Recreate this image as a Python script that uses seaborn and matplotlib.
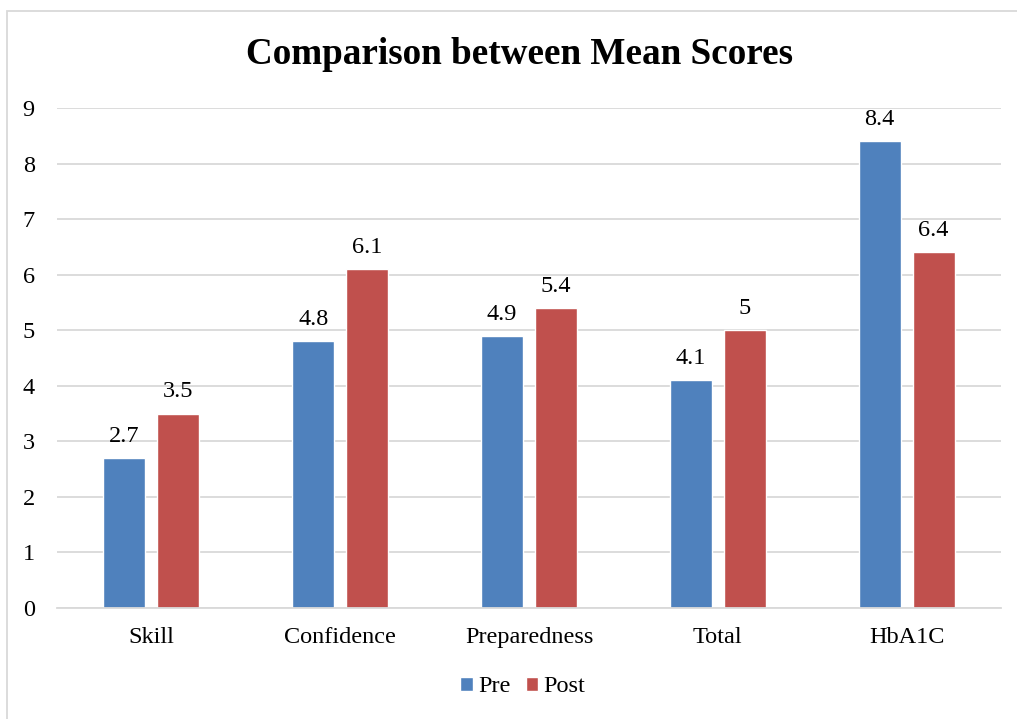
import matplotlib
matplotlib.use("Agg")
import matplotlib.pyplot as plt
import seaborn as sns
import pandas as pd
from matplotlib.patches import Rectangle

categories = ["Skill", "Confidence", "Preparedness", "Total", "HbA1C"]
pre_values = [2.7, 4.8, 4.9, 4.1, 8.4]
post_values = [3.5, 6.1, 5.4, 5.0, 6.4]
series_names = ["Pre", "Post"]
value_labels_pre = ["2.7", "4.8", "4.9", "4.1", "8.4"]
value_labels_post = ["3.5", "6.1", "5.4", "5", "6.4"]

df = pd.DataFrame({
    "Category": categories * 2,
    "Series": [series_names[0]] * len(categories) + [series_names[1]] * len(categories),
    "Score": pre_values + post_values,
})

sns.set_theme(style="white")
plt.rcParams["font.family"] = ["Liberation Serif", "DejaVu Serif"]
plt.rcParams["text.color"] = "black"
plt.rcParams["xtick.color"] = "black"
plt.rcParams["ytick.color"] = "black"

W, H = 1017, 719
fig = plt.figure(figsize=(W / 100, H / 100), dpi=100)
ax = fig.add_axes([57 / W, 1 - 608 / H, (1001 - 57) / W, (608 - 108) / H])

palette = {"Pre": "#4F81BD", "Post": "#C0504D"}
sns.barplot(data=df, x="Category", y="Score", hue="Series", order=categories,
            hue_order=series_names, palette=palette, width=0.571, gap=0.22,
            saturation=1, ax=ax, legend=True)

ax.set_ylim(0, 9)
ax.set_yticks(range(0, 10))
ax.yaxis.grid(True, color="#D9D9D9", linewidth=1.3)
ax.set_axisbelow(True)
for s in ["left", "right", "top"]:
    ax.spines[s].set_visible(False)
ax.spines["bottom"].set_color("#D9D9D9")
ax.spines["bottom"].set_linewidth(1.3)
ax.tick_params(axis="both", length=0, labelsize=17.5, labelcolor="black")
ax.tick_params(axis="x", pad=14)
ax.tick_params(axis="y", pad=16)
ax.set_xlabel("")
ax.set_ylabel("")

labels_by_series = [value_labels_pre, value_labels_post]
for container, labels in zip(ax.containers, labels_by_series):
    ax.bar_label(container, labels=labels, padding=8, fontsize=17.5, color="black")

handles, lbls = ax.get_legend_handles_labels()
ax.legend_.remove()
fig.legend(handles, lbls, loc="center", bbox_to_anchor=(523 / W, 1 - 687 / H),
           ncol=2, frameon=False, fontsize=17.5, handlelength=0.5,
           handleheight=0.5, handletextpad=0.25, columnspacing=0.6,
           borderpad=0.2)

fig.text(519 / W, 1 - 55 / H, "Comparison between Mean Scores", ha="center",
         va="center", fontsize=26.7, fontweight="bold", color="black")

fig.patches.append(Rectangle((7 / W, -0.05), 1.1, 1 - 11 / H + 0.05,
                             transform=fig.transFigure, fill=False,
                             edgecolor="#D9D9D9", linewidth=1.3, zorder=-1))

fig.savefig("out.png", dpi=100)
